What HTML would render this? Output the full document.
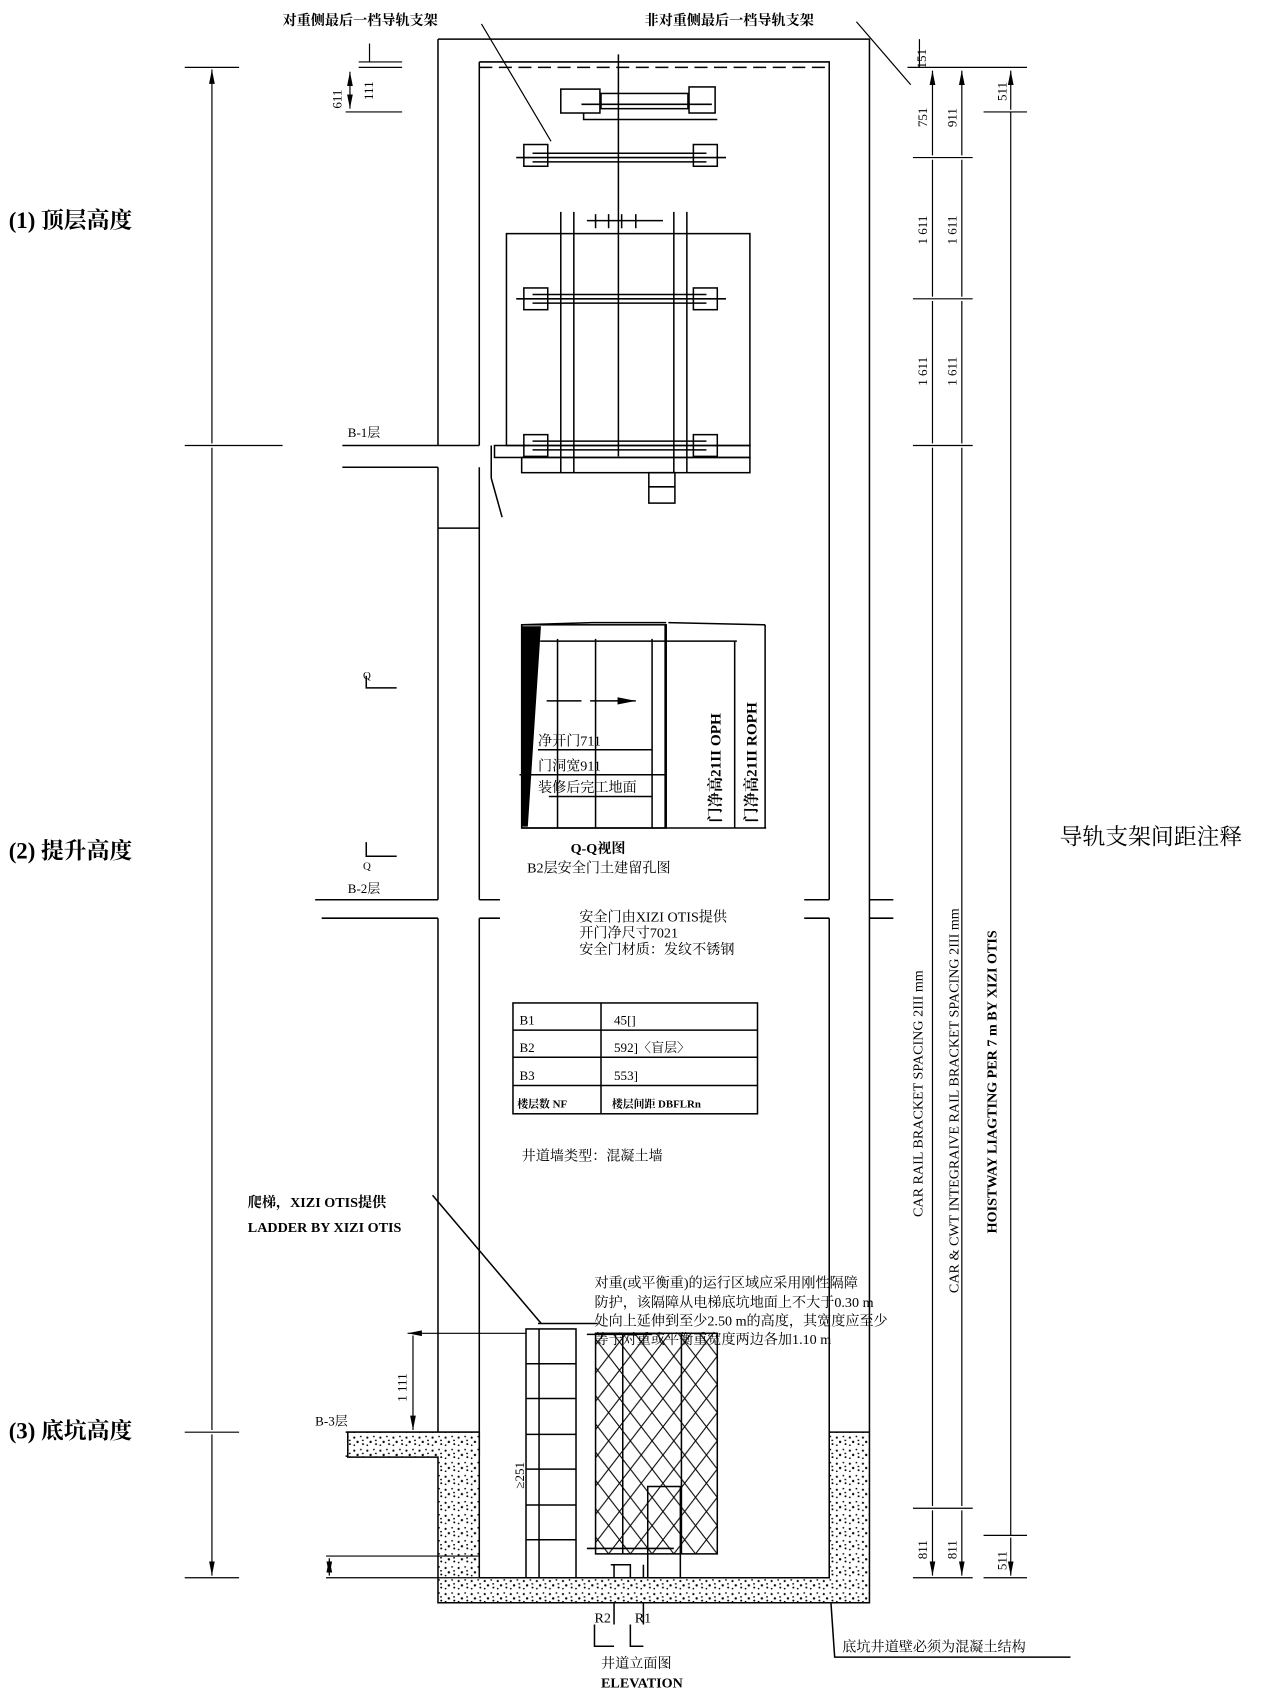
<!DOCTYPE html>
<html><head><meta charset="utf-8"><style>
html,body{margin:0;padding:0;background:#fff}
svg{display:block}
text{font-family:"Liberation Serif","Noto Serif CJK SC",serif;fill:#000}
</style></head><body>
<svg width="1277" height="1706" viewBox="0 0 1175 1570" preserveAspectRatio="none" xmlns="http://www.w3.org/2000/svg">
<defs>
<pattern id="conc" width="12" height="12" patternUnits="userSpaceOnUse">
<rect width="12" height="12" fill="#fff"/>
<circle cx="2" cy="3" r="1" fill="#000"/><circle cx="8" cy="2" r="0.8" fill="#000"/>
<circle cx="5" cy="7" r="1.1" fill="#000"/><circle cx="10" cy="9" r="0.9" fill="#000"/>
<circle cx="2" cy="10" r="0.8" fill="#000"/><rect x="9" y="5" width="1.6" height="1.2" fill="#000"/>
</pattern>
<pattern id="hatch" width="20" height="26" patternUnits="userSpaceOnUse">
<path d="M0 0 L20 26 M20 0 L0 26" stroke="#000" stroke-width="1"/>
</pattern>
<marker id="ar" viewBox="0 0 10 10" refX="10" refY="5" markerWidth="12" markerHeight="12" orient="auto-start-reverse"><path d="M0 3 L10 5 L0 7 Z" fill="#000"/></marker>
</defs>
<g stroke="#000" stroke-width="1.4" fill="none">
<path d="M403 36 H800 V1318 M403 36 V410 M403 430 V828 M403 845 V1318"/>
<path d="M441 57 H763 V828 M763 845 V1318 M441 57 V410 M441 430 V828 M441 845 V1318"/>
<path d="M441 62 H763" stroke-dasharray="12 6"/>
<path d="M315 410 H441 M315 430 H403 M290 828 H403 M441 828 H460 M740 828 H763 M800 828 H822 M296 845 H403 M441 845 H460 M740 845 H763 M800 845 H822"/>
<path d="M403 486 H441"/>
<rect x="516" y="82" width="36" height="22"/><rect x="553" y="86" width="80" height="14"/><rect x="634" y="80" width="24" height="24"/>
<path d="M537 104 V110 H660 M535 96 H655"/>
<path d="M569 50 V420"/>
<rect x="482" y="133" width="22" height="20"/><rect x="638" y="133" width="22" height="20"/>
<path d="M475 145 H668 M490 141 H650 M490 149 H650"/>
<rect x="466" y="215" width="224" height="195"/>
<path d="M516 195 V435 M528 195 V435 M620 195 V435 M632 195 V435"/>
<path d="M540 203 H610 M548 197 V210 M560 197 V210 M572 197 V210 M585 197 V210"/>
<rect x="482" y="265" width="22" height="20"/><rect x="638" y="265" width="22" height="20"/>
<path d="M475 275 H668 M490 271 H650 M490 279 H650"/>
<rect x="482" y="400" width="22" height="20"/><rect x="638" y="400" width="22" height="20"/>
<path d="M490 406 H650 M490 414 H650"/>
<rect x="455" y="410" width="235" height="11"/><rect x="480" y="421" width="210" height="14"/>
<rect x="597" y="435" width="24" height="28"/><path d="M597 448 H621"/>
<path d="M452 410 V440 M452 440 L462 476"/>
<rect x="480" y="575" width="133" height="187"/>
<path d="M480 575 L545 573 H613 M513 588 V762 M548 588 V762 M600 588 V762 M612 575 V762 M497 590 H678 M615 573 L704 575 M676 590 V762 M704 575 V762 M480 762 H705"/>
<path d="M495 690 H600 M478 713 H612 M505 733 H600"/>
<path d="M503 645 H535 M543 645 H585" marker-end="url(#ar)"/>
<polygon points="481,577 497,577 485,760 481,760" fill="#000"/>
<path d="M337 622 V633 H365 M337 775 V788 H365"/>
<rect x="472" y="923" width="225" height="102"/>
<path d="M553 923 V1025 M472 948 H697 M472 973 H697 M472 999 H697"/>
<rect x="484" y="1223" width="46" height="229"/>
<path d="M496 1223 V1452 M484 1255 H530 M484 1287 H530 M484 1320 H530 M484 1352 H530 M484 1385 H530 M484 1417 H530"/>
<path d="M398 1100 L498 1218"/>
<path d="M495 1218 H550 M540 1228 H600"/>
<rect x="548" y="1227" width="112" height="203" fill="url(#hatch)"/>
<path d="M573 1227 V1430 M627 1227 V1430"/>
<rect x="596" y="1368" width="30" height="84"/>
<path d="M540 1425 H620 M565 1440 V1495 M592 1440 V1495 M562 1440 H580 V1452"/>
<path d="M547 1495 V1515 H565 M580 1495 V1515 H592"/>
<path d="M763 1452 L768 1525 H985"/>
<path d="M318 1318 H441 V1340 M318 1340 H403"/>
</g>
<g stroke="#000" stroke-width="1.4">
<path d="M320 1318 H441 V1452 H763 V1318 H800 V1475 H403 V1341 H320 Z" fill="url(#conc)"/>
</g>
<g stroke="#000" stroke-width="1.1" fill="none">
<path d="M170 62 H220 M170 410 H260 M170 1318 H220 M170 1452 H220"/>
<path d="M195 64 V408 M195 412 V1316 M195 1320 V1450" marker-start="url(#ar)" marker-end="url(#ar)"/>
<path d="M330 62 H370 M330 57 H370 M318 103 H370 M340 40 V57" />
<path d="M322 66 V100" marker-start="url(#ar)" marker-end="url(#ar)"/>
<path d="M300 1432 H441 M300 1452 H441"/>
<path d="M303 1434 V1450" marker-start="url(#ar)" marker-end="url(#ar)"/>
<path d="M375 1227 H484 M380 1229 V1316" marker-start="url(#ar)" marker-end="url(#ar)"/>
<path d="M846 36 V62 M835 62 H910 M900 62 H945 M840 145 H895 M840 275 H895 M840 410 H895 M840 1388 H895 M840 1452 H895 M905 1452 H945 M905 103 H945 M905 1413 H945"/>
<path d="M858 65 V143 M858 147 V273 M858 277 V408 M858 412 V1386 M858 1390 V1450" marker-start="url(#ar)" marker-end="url(#ar)"/>
<path d="M885 65 V143 M885 147 V273 M885 277 V408 M885 412 V1386 M885 1390 V1450" marker-start="url(#ar)" marker-end="url(#ar)"/>
<path d="M930 65 V101 M930 1415 V1450" marker-start="url(#ar)" marker-end="url(#ar)"/>
<path d="M930 103 V1413"/>
<path d="M443 22 L507 130 M788 20 L838 78"/>
</g>
<g font-size="13" font-weight="bold">
<text x="260" y="23">对重侧最后一档导轨支架</text>
<text x="593" y="23">非对重侧最后一档导轨支架</text>
</g>
<g font-size="21" font-weight="bold">
<text x="8" y="210">(1) 顶层高度</text>
<text x="8" y="790">(2) 提升高度</text>
<text x="8" y="1324">(3) 底坑高度</text>
<text x="975" y="777" font-weight="normal">导轨支架间距注释</text>
</g>
<g font-size="12">
<text x="320" y="402">B-1层</text>
<text x="320" y="822">B-2层</text>
<text x="290" y="1312">B-3层</text>
<text x="334" y="625" font-size="10">Q</text>
<text x="334" y="800" font-size="10">Q</text>
</g>
<g font-size="13">
<text x="495" y="686">净开门711</text>
<text x="495" y="709">门洞宽911</text>
<text x="495" y="729">装修后完工地面</text>
<text x="525" y="785" font-weight="bold">Q-Q视图</text>
<text x="485" y="803">B2层安全门土建留孔图</text>
<text x="533" y="848">安全门由XIZI OTIS提供</text>
<text x="533" y="863">开门净尺寸7021</text>
<text x="533" y="878">安全门材质：发纹不锈钢</text>
<text x="480" y="1068">井道墙类型：混凝土墙</text>
<text x="228" y="1111" font-weight="bold">爬梯，XIZI OTIS提供</text>
<text x="228" y="1134" font-weight="bold">LADDER BY XIZI OTIS</text>
<text x="547" y="1185">对重(或平衡重)的运行区域应采用刚性隔障</text>
<text x="547" y="1203">防护，该隔障从电梯底坑地面上不大于0.30 m</text>
<text x="547" y="1220">处向上延伸到至少2.50 m的高度，其宽度应至少</text>
<text x="547" y="1237">等于对重或平衡重宽度两边各加1.10 m</text>
<text x="553" y="1535">井道立面图</text>
<text x="553" y="1553" font-weight="bold">ELEVATION</text>
<text x="775" y="1520">底坑井道壁必须为混凝土结构</text>
<text x="547" y="1493">R2</text><text x="584" y="1493">R1</text>
</g>
<g font-size="12" font-family="Liberation Sans, sans-serif">
<text x="478" y="943">B1</text><text x="565" y="943">45[]</text>
<text x="478" y="968">B2</text><text x="565" y="968">592]〈盲层〉</text>
<text x="478" y="994">B3</text><text x="565" y="994">553]</text>
<text x="476" y="1019" font-size="10" font-weight="bold">楼层数 NF</text><text x="563" y="1019" font-size="10" font-weight="bold">楼层间距 DBFLRn</text>
</g>
<g font-size="12">
<text transform="translate(853,117) rotate(-90)">751</text>
<text transform="translate(880,117) rotate(-90)">911</text>
<text transform="translate(926,93) rotate(-90)">511</text>
<text transform="translate(852,63) rotate(-90)">151</text>
<text transform="translate(853,225) rotate(-90)">1 611</text>
<text transform="translate(880,225) rotate(-90)">1 611</text>
<text transform="translate(853,355) rotate(-90)">1 611</text>
<text transform="translate(880,355) rotate(-90)">1 611</text>
<text transform="translate(853,1435) rotate(-90)">811</text>
<text transform="translate(880,1435) rotate(-90)">811</text>
<text transform="translate(926,1445) rotate(-90)">511</text>
<text transform="translate(314,100) rotate(-90)">611</text>
<text transform="translate(343,92) rotate(-90)">111</text>
<text transform="translate(374,1290) rotate(-90)">1 111</text>
<text transform="translate(482,1370) rotate(-90)">≥251</text>
<text transform="translate(849,1120) rotate(-90)" font-size="13">CAR RAIL BRACKET SPACING 2III mm</text>
<text transform="translate(882,1190) rotate(-90)" font-size="13">CAR &amp; CWT INTEGRAIVE RAIL BRACKET SPACING 2III mm</text>
<text transform="translate(917,1135) rotate(-90)" font-size="13" font-weight="bold">HOISTWAY LIAGTING PER 7 m BY XIZI OTIS</text>
<text transform="translate(663,757) rotate(-90)" font-weight="bold" font-size="14">门净高21II OPH</text>
<text transform="translate(696,757) rotate(-90)" font-weight="bold" font-size="14">门净高21II ROPH</text>
</g>
</svg>
</body></html>
